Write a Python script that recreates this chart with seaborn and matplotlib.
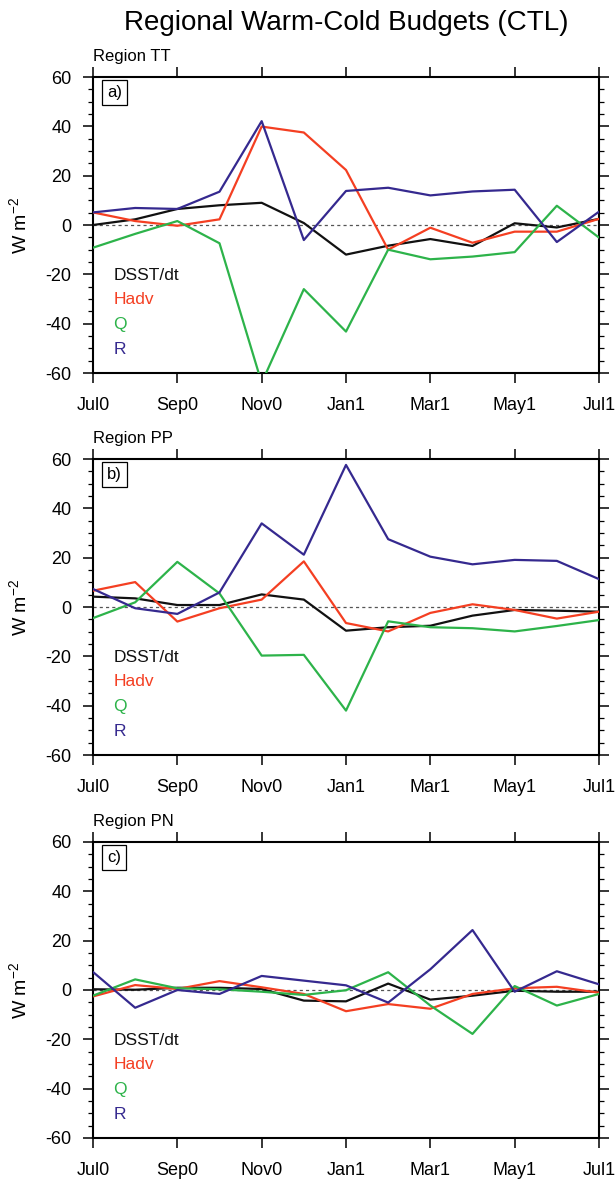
import matplotlib

matplotlib.use("Agg")
import matplotlib.pyplot as plt
import seaborn as sns
from matplotlib.ticker import MultipleLocator

MONTHS = ["Jul0", "Aug0", "Sep0", "Oct0", "Nov0", "Dec0",
          "Jan1", "Feb1", "Mar1", "Apr1", "May1", "Jun1", "Jul1"]
TICK_MONTHS = ["Jul0", "Sep0", "Nov0", "Jan1", "Mar1", "May1", "Jul1"]
SERIES = ["DSST/dt", "Hadv", "Q", "R"]

# Region TT
TT_DSST = [0.0, 2.3, 6.5, 8.0, 9.0, 0.8, -12.0, -8.4, -5.7, -8.5, 0.7, -1.0, 2.5]
TT_HADV = [5.1, 1.6, -0.3, 2.3, 39.9, 37.5, 22.3, -10.0, -1.1, -7.2, -2.7, -2.7, 2.5]
TT_Q = [-9.2, -3.6, 1.6, -7.4, -64.0, -26.0, -43.2, -10.0, -13.9, -12.8, -11.0, 7.8, -5.1]
TT_R = [5.1, 6.9, 6.5, 13.5, 42.1, -6.1, 13.8, 15.1, 12.0, 13.6, 14.3, -6.9, 5.4]

# Region PP
PP_DSST = [4.2, 3.5, 0.8, 0.8, 5.1, 3.0, -9.6, -8.2, -7.6, -3.5, -1.2, -1.5, -1.9]
PP_HADV = [6.6, 10.1, -5.9, -0.5, 3.0, 18.5, -6.5, -9.9, -2.4, 1.1, -1.2, -4.7, -1.9]
PP_Q = [-4.5, 1.9, 18.3, 5.5, -19.7, -19.4, -42.0, -5.8, -8.2, -8.6, -9.9, -7.7, -5.3]
PP_R = [7.3, -0.5, -2.8, 5.9, 33.9, 21.2, 57.6, 27.5, 20.4, 17.3, 19.1, 18.7, 11.3]

# Region PN
PN_DSST = [0.3, 0.1, 0.9, 0.9, 0.4, -4.3, -4.6, 2.6, -3.9, -2.3, -0.3, -0.7, -0.7]
PN_HADV = [-2.6, 2.0, 0.4, 3.6, 1.1, -1.6, -8.6, -5.7, -7.6, -1.6, 0.7, 1.3, -1.1]
PN_Q = [-2.3, 4.3, 0.7, 0.3, -0.7, -2.0, -0.1, 7.2, -6.3, -17.8, 1.6, -6.3, -1.6]
PN_R = [7.3, -7.2, 0.0, -1.6, 5.7, 3.8, 1.9, -5.1, 8.4, 24.3, -0.7, 7.6, 2.3]

PANELS = [
    ("Region TT", "a)", [TT_DSST, TT_HADV, TT_Q, TT_R]),
    ("Region PP", "b)", [PP_DSST, PP_HADV, PP_Q, PP_R]),
    ("Region PN", "c)", [PN_DSST, PN_HADV, PN_Q, PN_R]),
]
COLORS = {
    "DSST/dt": "#111111",
    "Hadv": "#F43F22",
    "Q": "#2DB34A",
    "R": "#35298F",
}

# axes boxes in figure pixels: (top, bottom)
W, H = 615, 1179
LEFT, RIGHT = 93, 599
BOXES = [(77, 373), (459, 755), (842, 1138)]


def draw_panel(ax, region, tag, values):
    x = list(range(len(MONTHS)))
    ax.axhline(0, color="#555555", linewidth=0.9, linestyle=(0, (2.5, 2.5)), zorder=1)
    for name, vals in zip(SERIES, values):
        sns.lineplot(x=x, y=vals, color=COLORS[name], linewidth=1.6,
                     legend=False, ax=ax, zorder=3)

    ax.set_xlim(0, len(MONTHS) - 1)
    ax.set_ylim(-60, 60)
    ax.set_xticks([MONTHS.index(m) for m in TICK_MONTHS])
    ax.set_xticklabels(TICK_MONTHS)
    ax.set_yticks(range(-60, 61, 20))
    ax.yaxis.set_minor_locator(MultipleLocator(5))
    ax.tick_params(axis="both", which="major", direction="out", length=7.5,
                   width=1.1, labelsize=13, top=True, right=True,
                   labeltop=False, labelright=False, color="black",
                   labelcolor="black")
    ax.tick_params(axis="y", which="major", pad=8)
    ax.tick_params(axis="x", which="major", pad=10)
    ax.tick_params(axis="y", which="minor", direction="out", length=3.3,
                   width=0.9, left=True, right=True, color="black")
    for spine in ax.spines.values():
        spine.set_visible(True)
        spine.set_linewidth(1.5)
        spine.set_color("black")

    ax.set_xlabel("")
    ax.set_ylabel("W m$^{-2}$", fontsize=14, color="black")
    ax.yaxis.set_label_coords(-0.122, 0.5)

    ax.text(0.0, 1.054, region, transform=ax.transAxes, fontsize=12,
            ha="left", va="baseline", color="black")
    ax.text(0.028, 0.947, tag, transform=ax.transAxes, fontsize=12,
            ha="left", va="center", color="black",
            bbox=dict(boxstyle="square,pad=0.3", facecolor="white",
                      edgecolor="black", linewidth=0.9))

    legend_y = [0.331, 0.249, 0.165, 0.080]
    for name, ly in zip(SERIES, legend_y):
        ax.text(0.04, ly, name, transform=ax.transAxes, fontsize=12.5,
                color=COLORS[name], ha="left", va="center")


def main() -> None:
    sns.set_theme(style="ticks")
    plt.rcParams["font.family"] = ["Liberation Sans", "DejaVu Sans"]
    plt.rcParams["axes.unicode_minus"] = False
    plt.rcParams["mathtext.fontset"] = "custom"
    plt.rcParams["mathtext.rm"] = "Liberation Sans"
    plt.rcParams["text.color"] = "black"

    fig = plt.figure(figsize=(W / 100, H / 100), dpi=100)
    for (region, tag, values), (top, bottom) in zip(PANELS, BOXES):
        ax = fig.add_axes([LEFT / W, 1 - bottom / H, (RIGHT - LEFT) / W,
                           (bottom - top) / H])
        draw_panel(ax, region, tag, values)

    fig.text((LEFT + RIGHT) / 2 / W, 1 - 30 / H,
             "Regional Warm-Cold Budgets (CTL)", fontsize=20,
             ha="center", va="baseline", color="black")

    fig.savefig("out.png", dpi=100)
    plt.close(fig)


if __name__ == "__main__":
    main()
